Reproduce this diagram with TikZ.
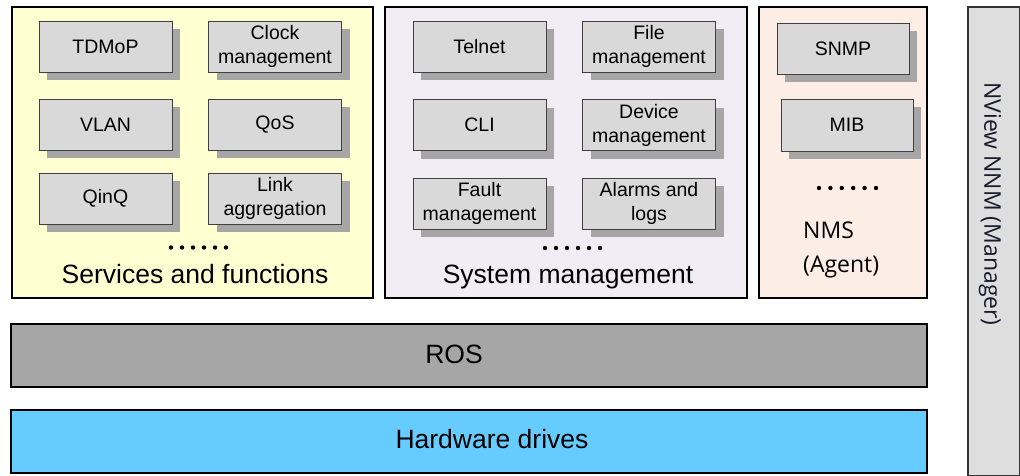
\documentclass[tikz,border=0pt]{standalone}
\usepackage{fontspec}
\setmainfont{Liberation Sans}
\newfontfamily\segoe{Open Sans}
\usetikzlibrary{shadows}
\definecolor{svcfill}{HTML}{FFFFD2}
\definecolor{sysfill}{HTML}{F0EEF4}
\definecolor{agtfill}{HTML}{FCEEE4}
\definecolor{itemfill}{HTML}{D9D9D9}
\definecolor{itemshadow}{HTML}{A6A6A6}
\definecolor{rosfill}{HTML}{A6A6A6}
\definecolor{hwfill}{HTML}{66CCFF}
\definecolor{nviewfill}{HTML}{DEDEDE}
\definecolor{nviewtext}{HTML}{1A1A2E}
\tikzset{
  group/.style={draw=black, line width=1.2pt, inner sep=0pt},
  item/.style={draw=black!75, line width=0.9pt, fill=itemfill, minimum width=133pt, minimum height=51pt,
    align=center, inner sep=0pt, font=\fontsize{19.5}{24}\selectfont,
    drop shadow={shadow xshift=8pt, shadow yshift=-8pt, fill=itemshadow, opacity=1}},
  biglabel/.style={font=\fontsize{26.5}{32}\selectfont, inner sep=0pt, anchor=base},
  bar/.style={draw=black, line width=1.2pt, inner sep=0pt},
  seglabel/.style={font=\segoe\fontsize{23}{28}\selectfont, inner sep=0pt, anchor=west},
  dot/.style={fill=black, draw=none}
}
\begin{document}
\begin{tikzpicture}[x=1pt,y=-1pt]
\useasboundingbox (0,0) rectangle (1020,475);
% group boxes
\draw[group, fill=svcfill] (12,7) rectangle (373,298);
\draw[group, fill=sysfill] (385,7) rectangle (747,298);
\draw[group, fill=agtfill] (759,7) rectangle (927,298);
\draw[group, fill=nviewfill, draw=black!80] (968,7) rectangle (1019.4,476);
% services
\node[item] (tdmop) at (105.5,46.5) {TDMoP};
\node[item] (clock) at (275,46.5) {Clock\\management};
\node[item] (vlan) at (105.5,124.5) {VLAN};
\node[item] (qos) at (275,124.5) {QoS};
\node[item] (qinq) at (105.5,198.5) {QinQ};
\node[item] (link) at (275,198.5) {Link\\aggregation};
\foreach \i in {0,...,5} \fill[dot] (171+\i*11,247.5) circle (2.2);
\node[biglabel] (svc) at (195,283) {Services and functions};
% system management
\node[item] (telnet) at (479.5,46.5) {Telnet};
\node[item] (file) at (649,46.5) {File\\management};
\node[item] (cli) at (479.5,125) {CLI};
\node[item] (device) at (649,125) {Device\\management};
\node[item] (fault) at (479.5,203.5) {Fault\\management};
\node[item] (alarms) at (649,203.5) {Alarms and\\logs};
\foreach \i in {0,...,5} \fill[dot] (545+\i*11,248) circle (2.2);
\node[biglabel] (sys) at (568,283) {System management};
% agent
\node[item, minimum width=132pt] (snmp) at (843,48.5) {SNMP};
\node[item, minimum width=132pt, minimum height=52pt] (mib) at (847,125) {MIB};
\foreach \i in {0,...,5} \fill[dot] (819+\i*11.4,188) circle (2.2);
\node[seglabel] (nms) at (803,230) {NMS};
\node[seglabel] (agent) at (803,267) {(Agent)};
% bars
\node[bar, fill=rosfill, minimum width=916pt, minimum height=63pt] (ros) at (469,355.5) {};
\node[biglabel] (roslabel) at (454,363) {ROS};
\node[bar, fill=hwfill, minimum width=916pt, minimum height=63pt] (hw) at (469,441.5) {};
\node[biglabel] (hwlabel) at (492,448) {Hardware drives};
% nview
\node[font=\segoe\fontsize{23}{28}\selectfont, text=nviewtext, rotate=-90, inner sep=0pt] (nview) at (990,204) {NView NNM (Manager)};
\end{tikzpicture}
\end{document}
